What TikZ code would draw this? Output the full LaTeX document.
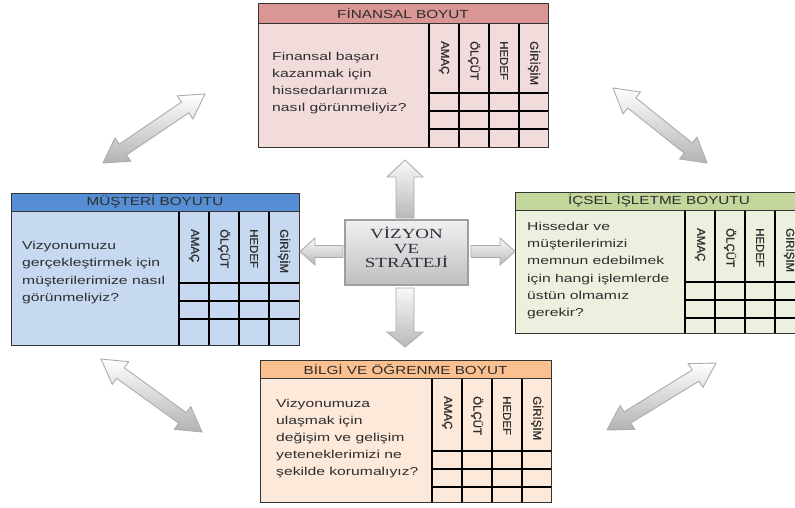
\documentclass[tikz,border=0pt]{standalone}
\usepackage{fontspec}
\setmainfont{Liberation Sans}
\newfontfamily\bodyfont[FakeStretch=1.37]{Liberation Sans}
\newfontfamily\headfont[FakeStretch=1.3]{Liberation Sans}
\newfontfamily\labfont[FakeBold=1]{Liberation Sans}
\newfontfamily\vizfont[FakeStretch=1.36]{Liberation Serif}
\usetikzlibrary{calc}
\definecolor{finhead}{HTML}{D99694}
\definecolor{finbody}{HTML}{F2DCDB}
\definecolor{musthead}{HTML}{558ED5}
\definecolor{mustbody}{HTML}{C6D9F1}
\definecolor{icshead}{HTML}{C3D69B}
\definecolor{icsbody}{HTML}{EBF1DE}
\definecolor{bilhead}{HTML}{FAC090}
\definecolor{bilbody}{HTML}{FDE9D9}
\definecolor{txt}{HTML}{2E2E2E}
\definecolor{viztxt}{HTML}{2B3040}
\tikzset{
  gridline/.style={line width=1.2pt, black},
  boxline/.style={line width=0.8pt, black!80},
  titletext/.style={font=\headfont\fontsize{11.8}{12}\selectfont, text=txt, inner sep=0pt},
  collabel/.style={font=\labfont\fontsize{11.5}{12}\selectfont, rotate=-90, anchor=west, inner sep=0pt, text=txt},
  bodytext/.style={font=\bodyfont\fontsize{11.5}{17.2}\selectfont, align=left, anchor=west, inner sep=0pt, text=txt},
  viztext/.style={font=\vizfont\fontsize{14}{14.5}\selectfont, align=center, inner sep=0pt, text=viztxt},
  vizbox/.style={draw=gray!75, line width=1.5pt, top color=gray!12, bottom color=gray!50, minimum width=123bp, minimum height=65bp, inner sep=0pt},
  blockarrow/.style={draw=gray!65, line width=0.9pt, top color=gray!5, bottom color=gray!55},
  diagarrow/.style={draw=gray!65, line width=0.9pt, top color=white, bottom color=gray!60}
}
% #1 name/colour prefix, #2 L, #3 T, #4 R, #5 B, #6 header bottom, #7 first column line, #8 first row line, #9 title
\newcommand\dimbox[9]{%
  \fill[#1body] (#2,#6) rectangle (#4,#5);
  \fill[#1head] (#2,#3) rectangle (#4,#6);
  \foreach \i in {0,...,3} \draw[gridline] ({#7+30*\i},#6) -- ({#7+30*\i},#5);
  \foreach \j in {0,1,2} \draw[gridline] (#7,{#8+18*\j}) -- (#4,{#8+18*\j});
  \draw[boxline] (#2,#3) rectangle (#4,#5);
  \draw[boxline] (#2,#6) -- (#4,#6);
  \node[titletext] (#1-title) at ({(#2+#4)/2},{(#3+#6)/2}) {#9};
  \foreach \lab [count=\k from 0] in {AMAÇ,ÖLÇÜT,HEDEF,GİRİŞİM}
    \node[collabel] (#1-lab\k) at ({#7+30*\k+15},{#6+18}) {\lab};
}
% single block arrow: #1 tail, #2 tip, #3 shaft half width, #4 head half width, #5 head length
\newcommand\blockarrow[5]{%
  \coordinate (ba-b) at ($(#2)!#5!(#1)$);
  \draw[blockarrow] ($(#1)!#3!90:(#2)$) -- ($(ba-b)!#3!90:(#2)$) -- ($(ba-b)!#4!90:(#2)$) -- (#2)
    -- ($(ba-b)!#4!-90:(#2)$) -- ($(ba-b)!#3!-90:(#2)$) -- ($(#1)!#3!-90:(#2)$) -- cycle;
}
% double block arrow between #1 and #2
\newcommand\dblarrow[2]{%
  \coordinate (da-b1) at ($(#1)!24bp!(#2)$);
  \coordinate (da-b2) at ($(#2)!24bp!(#1)$);
  \draw[diagarrow] (#1) -- ($(da-b1)!14bp!-90:(#2)$) -- ($(da-b1)!6.5bp!-90:(#2)$)
    -- ($(da-b2)!6.5bp!-90:(#2)$) -- ($(da-b2)!14bp!-90:(#2)$) -- (#2)
    -- ($(da-b2)!14bp!90:(#2)$) -- ($(da-b2)!6.5bp!90:(#2)$)
    -- ($(da-b1)!6.5bp!90:(#2)$) -- ($(da-b1)!14bp!90:(#2)$) -- cycle;
}
\begin{document}
\begin{tikzpicture}[x=1bp,y=-1bp]
\useasboundingbox (0,0) rectangle (795,508);
\fill[white] (0,0) rectangle (795,508);

% four perspective boxes
\dimbox{fin}{258}{3}{548}{147}{23}{429}{93}{FİNANSAL BOYUT}
\dimbox{must}{11}{193}{299}{345}{211}{179}{283}{MÜŞTERİ BOYUTU}
\dimbox{ics}{515}{192}{803}{333}{210}{685}{282}{İÇSEL İŞLETME BOYUTU}
\dimbox{bil}{260}{360}{551}{502}{378}{432}{451}{BİLGİ VE ÖĞRENME BOYUT}

\node[bodytext] (fin-q) at (272,83) {Finansal başarı\\kazanmak için\\hissedarlarımıza\\nasıl görünmeliyiz?};
\node[bodytext] (must-q) at (22,272.5) {Vizyonumuzu\\gerçekleştirmek için\\müşterilerimize nasıl\\görünmeliyiz?};
\node[bodytext] (ics-q) at (527,270.5) {Hissedar ve\\müşterilerimizi\\memnun edebilmek\\için hangi işlemlerde\\üstün olmamız\\gerekir?};
\node[bodytext] (bil-q) at (276,438.5) {Vizyonumuza\\ulaşmak için\\değişim ve gelişim\\yeteneklerimizi ne\\şekilde korumalıyız?};

% centre box
\node[vizbox] (viz) at (406.5,252.5) {};
\node[viztext] (viz-t) at (406.5,247.5) {VİZYON\\VE\\STRATEJİ};

% arrows out of the centre
\coordinate (up-tail) at (405,218);   \coordinate (up-tip) at (405,160);
\coordinate (dn-tail) at (405,288);   \coordinate (dn-tip) at (405,347);
\coordinate (lf-tail) at (343,251.5); \coordinate (lf-tip) at (300,251.5);
\coordinate (rt-tail) at (471,251.5); \coordinate (rt-tip) at (515,251.5);
\blockarrow{up-tail}{up-tip}{9bp}{18bp}{17bp}
\blockarrow{dn-tail}{dn-tip}{9bp}{18bp}{15bp}
\blockarrow{lf-tail}{lf-tip}{6bp}{13.5bp}{15bp}
\blockarrow{rt-tail}{rt-tip}{6bp}{13.5bp}{15bp}

% diagonal double arrows between neighbouring boxes
\coordinate (tl-a) at (103,163); \coordinate (tl-b) at (205,94);
\coordinate (tr-a) at (613,88);  \coordinate (tr-b) at (707,163);
\coordinate (bl-a) at (101,359); \coordinate (bl-b) at (202,432);
\coordinate (br-a) at (607,430); \coordinate (br-b) at (716,363);
\dblarrow{tl-a}{tl-b}
\dblarrow{tr-a}{tr-b}
\dblarrow{bl-a}{bl-b}
\dblarrow{br-a}{br-b}
\end{tikzpicture}
\end{document}
